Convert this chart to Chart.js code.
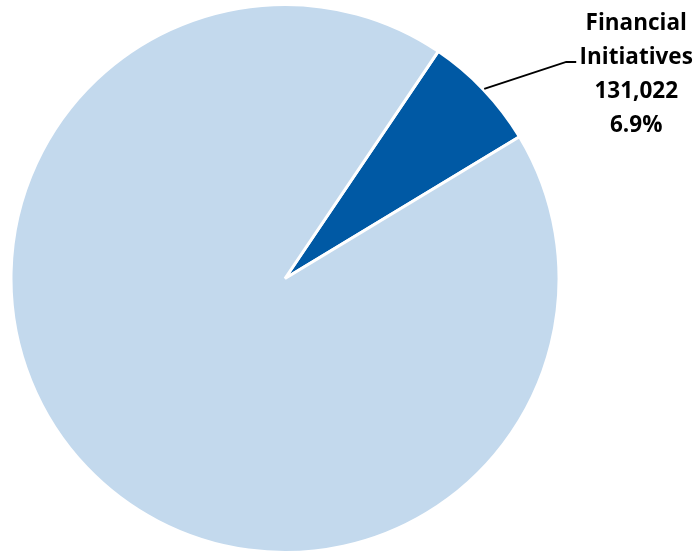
<!DOCTYPE html>
<html>
<head>
<meta charset="utf-8">
<script src="https://cdn.jsdelivr.net/npm/chart.js@4"></script>
<style>
  html, body { margin: 0; padding: 0; background: #fff; overflow: hidden; }
  #wrap { width: 698px; height: 554px; }
</style>
</head>
<body>
<div id="wrap"><canvas id="pieChart"></canvas></div>
<script>
// Slices: the highlighted one first, then the remainder
const categories = ["Financial Initiatives", "Other"];
const values = [131022, 1767848];
const percents = ["6.9%", "93.1%"];
const colors = ["#0059A4", "#C3D9ED"];

// Label with leader line, only for the highlighted slice
const calloutLabel = {
    id: "calloutLabel",
    afterDraw(chart) {
        const arc = chart.getDatasetMeta(0).data[0];
        const mid = (arc.startAngle + arc.endAngle) / 2;
        const r = arc.outerRadius + 1;
        const x0 = arc.x + Math.cos(mid) * r;
        const y0 = arc.y + Math.sin(mid) * r;
        const ex = x0 + 82, ey = y0 - 27;
        const ctx = chart.ctx;
        ctx.save();
        ctx.strokeStyle = "#000";
        ctx.lineWidth = 2;
        ctx.beginPath();
        ctx.moveTo(x0, y0);
        ctx.lineTo(ex, ey);
        ctx.lineTo(ex + 10, ey);
        ctx.stroke();

        const lines = ["Financial", "Initiatives", values[0].toLocaleString("en-US"), percents[0]];
        ctx.fillStyle = "#000";
        ctx.font = "bold 22.5px 'Open Sans'";
        ctx.textAlign = "center";
        ctx.textBaseline = "alphabetic";
        const cx = ex + 70;
        lines.forEach((t, i) => ctx.fillText(t, cx, ey - 32 + i * 34));
        ctx.restore();
    }
};

new Chart(document.getElementById("pieChart"), {
    type: "pie",
    data: {
        labels: categories,
        datasets: [{
            data: values,
            backgroundColor: colors,
            borderColor: "#ffffff",
            borderWidth: 3
        }]
    },
    options: {
        responsive: true,
        maintainAspectRatio: false,
        animation: false,
        rotation: 34,
        layout: { padding: { left: 9, right: 137, top: 3, bottom: 0 } },
        plugins: {
            legend: { display: false },
            tooltip: { enabled: false }
        }
    },
    plugins: [calloutLabel]
});
</script>
</body>
</html>
